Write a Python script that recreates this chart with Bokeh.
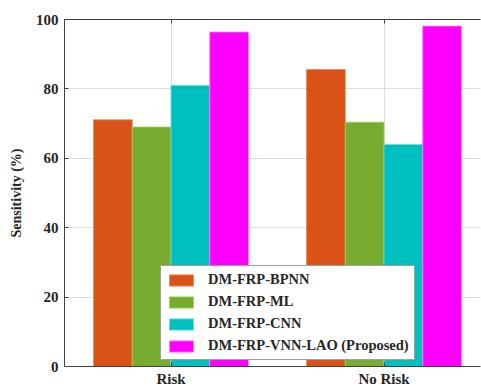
from bokeh.plotting import figure
from bokeh.models import ColumnDataSource, Range1d, LinearAxis, FixedTicker, Legend, LegendItem
from bokeh.transform import dodge
from bokeh.embed import file_html
from bokeh.resources import INLINE

# Sensitivity (%) per risk class for each method
categories = ["Risk", "No Risk"]
bpnn = [71.1, 85.6]
ml = [69.0, 70.4]
cnn = [81.0, 64.0]
vnn_lao = [96.4, 98.1]

series_names = ["DM-FRP-BPNN", "DM-FRP-ML", "DM-FRP-CNN", "DM-FRP-VNN-LAO (Proposed)"]
series_values = [bpnn, ml, cnn, vnn_lao]
colors = ["#D95319", "#77AC30", "#00BFBF", "#FF00FF"]
edge_colors = ["#F08050", "#A0D060", "#60E0E0", "#FF80FF"]

SERIF = "Liberation Serif"

positions = [i + 1 for i in range(len(categories))]
data = {"x": positions}
for i, vals in enumerate(series_values):
    data[f"s{i}"] = vals
source = ColumnDataSource(data)

p = figure(width=481, height=389, output_backend="svg", toolbar_location=None,
           x_range=Range1d(0.5, 2.453), y_range=Range1d(0, 100),
           min_border_left=64, min_border_top=19, min_border_bottom=23, min_border_right=1)

n = len(series_values)
group_w = min(0.8, n / (n + 1.5))
bar_w = group_w / n
renderers = []
for i in range(n):
    off = (i - (n - 1) / 2) * bar_w
    r = p.vbar(x=dodge("x", off, range=p.x_range), top=f"s{i}", width=bar_w, source=source,
               fill_color=colors[i], line_color=edge_colors[i], line_width=0.8)
    renderers.append(r)

# axes
p.xaxis.ticker = FixedTicker(ticks=positions)
p.xaxis.major_label_overrides = {pos: c for pos, c in zip(positions, categories)}
p.yaxis.ticker = FixedTicker(ticks=[0, 20, 40, 60, 80, 100])
p.yaxis.axis_label = "Sensitivity (%)"

for ax in (p.xaxis[0], p.yaxis[0]):
    ax.major_label_text_font = SERIF
    ax.major_label_text_font_style = "bold"
    ax.major_label_text_font_size = "15px"
    ax.major_label_text_color = "#262626"
    ax.axis_line_color = "#404040"
    ax.major_tick_line_color = "#404040"
    ax.major_tick_in = 4
    ax.major_tick_out = 0
    ax.minor_tick_line_color = None
p.xaxis.major_label_standoff = 4
p.yaxis.major_label_standoff = 6
p.yaxis.axis_label_text_font = SERIF
p.yaxis.axis_label_text_font_style = "bold"
p.yaxis.axis_label_text_font_size = "14px"
p.yaxis.axis_label_text_color = "#262626"
p.yaxis.axis_label_standoff = 9

top_axis = LinearAxis(ticker=FixedTicker(ticks=positions), major_label_text_alpha=0,
                      major_label_text_font_size="1px", major_label_standoff=0,
                      axis_line_color="#404040", major_tick_line_color="#404040",
                      major_tick_in=4, major_tick_out=0, minor_tick_line_color=None)
p.add_layout(top_axis, "above")

p.outline_line_color = None
p.xgrid.grid_line_color = "#DEDEDE"
p.ygrid.grid_line_color = "#DEDEDE"
p.xgrid.ticker = FixedTicker(ticks=positions)
p.ygrid.ticker = FixedTicker(ticks=[20, 40, 60, 80])

legend = Legend(items=[LegendItem(label=nm, renderers=[r]) for nm, r in zip(series_names, renderers)],
                location=(96, 6), label_text_font=SERIF, label_text_font_style="bold",
                label_text_font_size="14.5px", label_text_color="#262626",
                glyph_width=30, glyph_height=14, label_height=14, spacing=5,
                padding=5, margin=0, label_standoff=12,
                border_line_color="#404040", border_line_width=1, background_fill_alpha=1)
p.add_layout(legend, "center")

open("out.html", "w").write(file_html(p, INLINE))
